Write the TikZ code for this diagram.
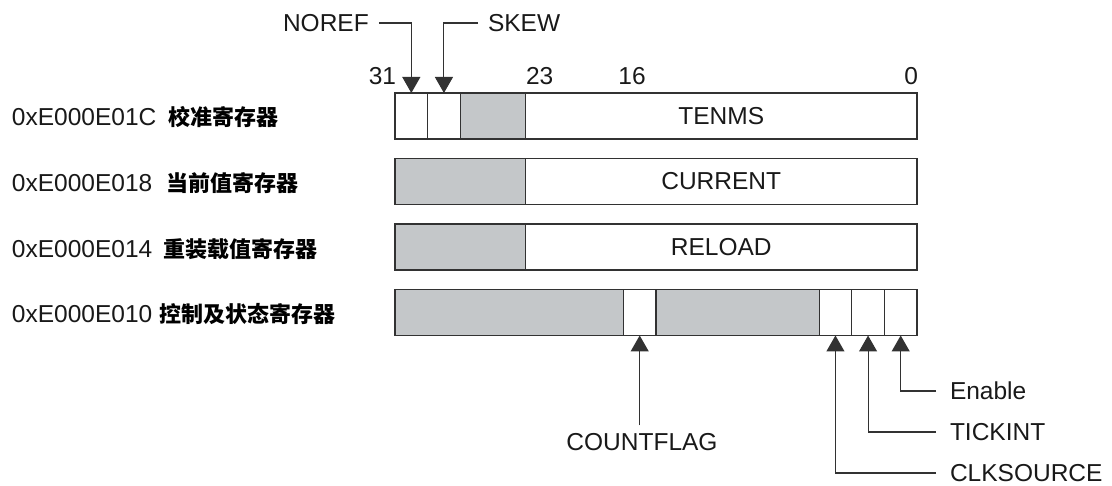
\documentclass[tikz,border=0pt]{standalone}
\usepackage{fontspec}
\setmainfont{Liberation Sans}
\newfontfamily\cjk{Noto Sans CJK SC}
\usetikzlibrary{arrows.meta}
\definecolor{fieldgray}{RGB}{196,199,201}
\definecolor{linegray}{RGB}{50,50,50}
\tikzset{
  field/.style={draw=linegray, line width=1.1pt, minimum height=46pt, inner sep=0pt, outer sep=0pt, font=\fontsize{24.5}{28}\selectfont, text=black!90},
  grayfield/.style={field, fill=fieldgray},
  whitefield/.style={field, fill=white},
  lbl/.style={inner sep=0pt, outer sep=0pt, font=\fontsize{24.5}{28}\selectfont, text=black!90},
  cjklbl/.style={inner sep=0pt, outer sep=0pt, font=\cjk\bfseries\fontsize{22}{25}\selectfont},
  arr/.style={draw=linegray, line width=1.1pt, -{Triangle[length=16pt,width=18pt]}},
}
\begin{document}
\begin{tikzpicture}[x=1pt,y=-1pt]
\useasboundingbox (0,0) rectangle (1112,486);
% row 1
\node[whitefield, minimum width=32.625pt] (n31) at (411.31,116) {};
\node[whitefield, minimum width=32.625pt] (n30) at (443.94,116) {};
\node[grayfield, minimum width=65.25pt] (g1) at (492.875,116) {};
\node[whitefield, minimum width=391.5pt] (tenms) at (721.25,116) {TENMS};
% row 2
\node[grayfield, minimum width=130.5pt] (g2) at (460.25,181.5) {};
\node[whitefield, minimum width=391.5pt] (current) at (721.25,181.5) {CURRENT};
% row 3
\node[grayfield, minimum width=130.5pt] (g3) at (460.25,247) {};
\node[whitefield, minimum width=391.5pt] (reload) at (721.25,247) {RELOAD};
% row 4
\node[grayfield, minimum width=228.375pt] (g4a) at (509.19,312.5) {};
\node[whitefield, minimum width=32.625pt] (cf) at (639.69,312.5) {};
\node[grayfield, minimum width=163.125pt] (g4b) at (737.56,312.5) {};
\node[whitefield, minimum width=32.625pt] (cs) at (835.44,312.5) {};
\node[whitefield, minimum width=32.625pt] (ti) at (868.06,312.5) {};
\node[whitefield, minimum width=32.625pt] (en) at (900.69,312.5) {};
% bit numbers
\node[lbl, anchor=east] (b31) at (396,76) {31};
\node[lbl, anchor=west] (b23) at (526,76) {23};
\node[lbl] (b16) at (632,76) {16};
\node[lbl, anchor=east] (b0) at (918,76) {0};
% left labels
\node[lbl, anchor=west] (a1) at (12,117) {0xE000E01C};
\node[cjklbl, anchor=west] (c1) at (168,117) {校准寄存器};
\node[lbl, anchor=west] (a2) at (12,183) {0xE000E018};
\node[cjklbl, anchor=west] (c2) at (166,183) {当前值寄存器};
\node[lbl, anchor=west] (a3) at (12,249) {0xE000E014};
\node[cjklbl, anchor=west] (c3) at (163,249) {重装载值寄存器};
\node[lbl, anchor=west] (a4) at (12,314) {0xE000E010};
\node[cjklbl, anchor=west] (c4) at (159,314) {控制及状态寄存器};
% top annotations
\node[lbl, anchor=west] (noref) at (283,23) {NOREF};
\node[lbl, anchor=west] (skew) at (488,23) {SKEW};
\draw[arr] ([xshift=10pt]noref.east) -| (n31.north);
\draw[arr] ([xshift=-10pt]skew.west) -| (n30.north);
% bottom annotations
\node[lbl] (countflag) at (642,442) {COUNTFLAG};
\draw[arr] ([yshift=8pt]countflag.north -| cf.south) -- (cf.south);
\node[lbl, anchor=west] (enable) at (950,391) {Enable};
\node[lbl, anchor=west] (tickint) at (950,432) {TICKINT};
\node[lbl, anchor=west] (clksource) at (950,473) {CLKSOURCE};
\draw[arr] ([xshift=-14pt]enable.west) -| (en.south);
\draw[arr] ([xshift=-14pt]tickint.west) -| (ti.south);
\draw[arr] ([xshift=-14pt]clksource.west) -| (cs.south);
\end{tikzpicture}
\end{document}
